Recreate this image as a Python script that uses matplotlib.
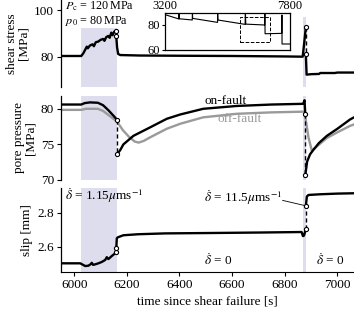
import matplotlib
matplotlib.use('Agg')
import matplotlib.pyplot as plt
from matplotlib.patches import Rectangle

plt.rcParams['font.family'] = ['Liberation Serif', 'DejaVu Serif']
plt.rcParams['mathtext.fontset'] = 'stix'
plt.rcParams['font.size'] = 9.5

# shear stress [MPa] (on-fault), split at the two slip events
stress_t_a = [5950, 6027, 6035, 6042, 6048, 6052, 6060, 6070, 6075, 6082, 6092, 6100,
              6110, 6115, 6122, 6130, 6135, 6141, 6146, 6152, 6160]
stress_v_a = [80.3, 80.3, 81.5, 83.0, 84.3, 83.6, 84.8, 85.3, 84.5, 86.2, 86.5, 87.2,
              87.6, 86.8, 88.4, 88.9, 88.1, 90.3, 89.2, 90.7, 91.0]
stress_t_b = [6160, 6163, 6167, 6175, 6250, 6400, 6600, 6800, 6868, 6874, 6880]
stress_v_b = [88.7, 84.0, 81.2, 80.7, 80.5, 80.4, 80.3, 80.1, 80.0, 86.0, 92.7]
stress_t_c = [6880, 6883, 6900, 6930, 6935, 6990, 7000, 7063]
stress_v_c = [81.2, 72.3, 72.5, 72.6, 73.0, 73.0, 73.2, 73.2]

# long record for the inset
inset_t = [3200, 3715, 3718, 3722, 4205, 4210, 4220, 5135, 5140, 5150, 6150, 6160,
           6175, 6870, 6878, 6885, 7500, 7505, 7510, 7800]
inset_v = [88.3, 84.8, 91.0, 85.0, 84.0, 91.0, 85.3, 82.1, 91.0, 84.0, 80.5, 91.0,
           80.7, 80.0, 92.7, 73.0, 73.3, 88.0, 64.8, 64.8]

# pore pressure [MPa]
pore_t_a = [5950, 6027, 6040, 6060, 6090, 6110, 6130, 6150, 6163]
pore_v_a = [80.6, 80.6, 80.8, 80.9, 80.85, 80.5, 79.8, 79.0, 78.45]
pore_t_b = [6163, 6175, 6187, 6225, 6289, 6352, 6403, 6490, 6618, 6750, 6870, 6875, 6878]
pore_v_b = [73.6, 74.2, 75.0, 76.2, 77.4, 78.6, 79.2, 80.0, 80.4, 80.6, 80.7, 81.2, 79.2]
pore_t_c = [6878, 6885, 6896, 6908, 6930, 6960, 7000, 7048, 7063]
pore_v_c = [70.7, 72.6, 73.6, 74.2, 75.2, 76.2, 77.2, 78.5, 78.8]

off_t = [5950, 6027, 6045, 6090, 6110, 6135, 6163, 6185, 6210, 6230, 6245, 6265, 6289,
         6352, 6403, 6490, 6618, 6750, 6875, 6880, 6890, 6903, 6915, 6960, 7000, 7048, 7063]
off_v = [79.85, 79.85, 80.0, 80.0, 79.7, 79.0, 78.2, 77.0, 76.0, 75.4, 75.25, 75.5, 76.0,
         77.2, 77.9, 78.8, 79.3, 79.5, 79.6, 78.4, 76.0, 74.1, 74.5, 75.9, 76.7, 77.6, 77.8]

# slip [mm]
slip_t_a = [5950, 6023, 6035, 6042, 6054, 6063, 6067, 6072, 6080, 6092, 6105, 6118,
            6124, 6130, 6143, 6156, 6160]
slip_v_a = [2.502, 2.502, 2.492, 2.486, 2.488, 2.497, 2.505, 2.493, 2.496, 2.502, 2.510,
            2.522, 2.538, 2.527, 2.545, 2.561, 2.571]
slip_t_b = [6160, 6162, 6166, 6187, 6243, 6346, 6500, 6700, 6864, 6869, 6873, 6880]
slip_v_b = [2.590, 2.649, 2.655, 2.667, 2.673, 2.678, 2.680, 2.683, 2.686, 2.662, 2.665, 2.702]
slip_t_c = [6880, 6884, 6890, 6934, 7000, 7063]
slip_v_c = [2.839, 2.895, 2.904, 2.908, 2.912, 2.914]

shade = '#dddded'
grey = '#9a9a9a'


def plot_fault(ax, ta, va, tb, vb, tc, vc):
    for t, v in [(ta, va), (tb, vb), (tc, vc)]:
        ax.plot(t, v, color='k', lw=1.7, zorder=3)
    for t0, v0, t1, v1 in [(ta[-1], va[-1], tb[0], vb[0]), (tb[-1], vb[-1], tc[0], vc[0])]:
        ax.plot([t0, t1], [v0, v1], color='k', lw=1.0, ls=(0, (3, 2)), zorder=4)
        ax.plot([t0, t1], [v0, v1], ls='none', marker='o', ms=3, mfc='white',
                mec='k', mew=0.8, zorder=5)


fig = plt.figure(figsize=(3.54, 3.14), dpi=100)
ax1 = fig.add_axes([0.1723, 0.7229, 0.8277, 0.2771])
ax2 = fig.add_axes([0.1723, 0.4268, 0.8277, 0.2675])
ax3 = fig.add_axes([0.1723, 0.1338, 0.8277, 0.2675])

for ax in (ax1, ax2, ax3):
    ax.set_xlim(5950, 7063)
    ax.spines['top'].set_visible(False)
    ax.spines['right'].set_visible(False)
    ax.tick_params(direction='out', length=3, width=0.8, pad=2)
    ax.spines['left'].set_linewidth(0.9)
for ax in (ax1, ax2):
    ax.spines['bottom'].set_visible(False)
    ax.set_xticks([])

# shear stress
ax1.set_ylim(67, 104.3)
ax1.axvspan(6027, 6163, ymax=0.678, color=shade, lw=0, zorder=0)
ax1.axvspan(6870, 6882, ymax=0.804, color=shade, lw=0, zorder=0)
plot_fault(ax1, stress_t_a, stress_v_a, stress_t_b, stress_v_b, stress_t_c, stress_v_c)
ax1.set_yticks([80, 100])
ax1.set_ylabel('shear stress\n[MPa]', labelpad=3, linespacing=1.0)
ax1.text(5965, 101.6, r'$P_\mathrm{c}$ = 120$\,$MPa', va='center', ha='left', fontsize=8.7)
ax1.text(5965, 95.4, r'$p_0$ = 80$\,$MPa', va='center', ha='left', fontsize=8.7)

# inset with the longer record
axi = fig.add_axes([0.466, 0.8408, 0.353, 0.1178])
axi.plot(inset_t, inset_v, color='k', lw=0.8)
axi.set_xlim(3200, 7800)
axi.set_ylim(60, 89.6)
axi.xaxis.tick_top()
axi.set_xticks([3200, 7800])
axi.set_yticks([60, 80])
axi.tick_params(axis='y', length=2.5, width=0.8, pad=1, labelsize=9)
axi.tick_params(axis='x', length=0, pad=1, labelsize=9)
for s in axi.spines.values():
    s.set_linewidth(0.9)
axi.add_patch(Rectangle((5950, 66.6), 1113, 20, fill=False, ls='--', lw=0.7))

# pore pressure
ax2.set_ylim(70, 81.8)
ax2.axvspan(6027, 6163, color=shade, lw=0, zorder=0)
ax2.axvspan(6870, 6882, color=shade, lw=0, zorder=0)
ax2.plot(off_t, off_v, color=grey, lw=1.7, zorder=2)
plot_fault(ax2, pore_t_a, pore_v_a, pore_t_b, pore_v_b, pore_t_c, pore_v_c)
ax2.set_yticks([70, 75, 80])
ax2.set_ylabel('pore pressure\n[MPa]', labelpad=3, linespacing=1.0)
ax2.text(6574, 81.1, 'on-fault', ha='center', va='center')
ax2.text(6630, 78.6, 'off-fault', ha='center', va='center', color=grey)

# slip
ax3.set_ylim(2.451, 2.945)
ax3.axvspan(6027, 6163, color=shade, lw=0, zorder=0)
ax3.axvspan(6870, 6882, color=shade, lw=0, zorder=0)
plot_fault(ax3, slip_t_a, slip_v_a, slip_t_b, slip_v_b, slip_t_c, slip_v_c)
ax3.set_yticks([2.6, 2.8])
ax3.set_xticks([6000, 6200, 6400, 6600, 6800, 7000])
ax3.set_ylabel('slip [mm]', labelpad=3)
ax3.set_xlabel('time since shear failure [s]', labelpad=3)
ax3.text(5965, 2.903, r'$\dot{\delta}$ = 1.15$\mu$ms$^{-1}$', ha='left', va='center')
ax3.text(6790, 2.89, r'$\dot{\delta}$ = 11.5$\mu$ms$^{-1}$', ha='right', va='center')
ax3.plot([6792, 6878], [2.872, 2.841], color='k', lw=0.6)
ax3.text(6547, 2.522, r'$\dot{\delta}$ = 0', ha='center', va='center')
ax3.text(6972, 2.522, r'$\dot{\delta}$ = 0', ha='center', va='center')

fig.align_ylabels([ax1, ax2, ax3])
fig.savefig('out.png', dpi=100)
